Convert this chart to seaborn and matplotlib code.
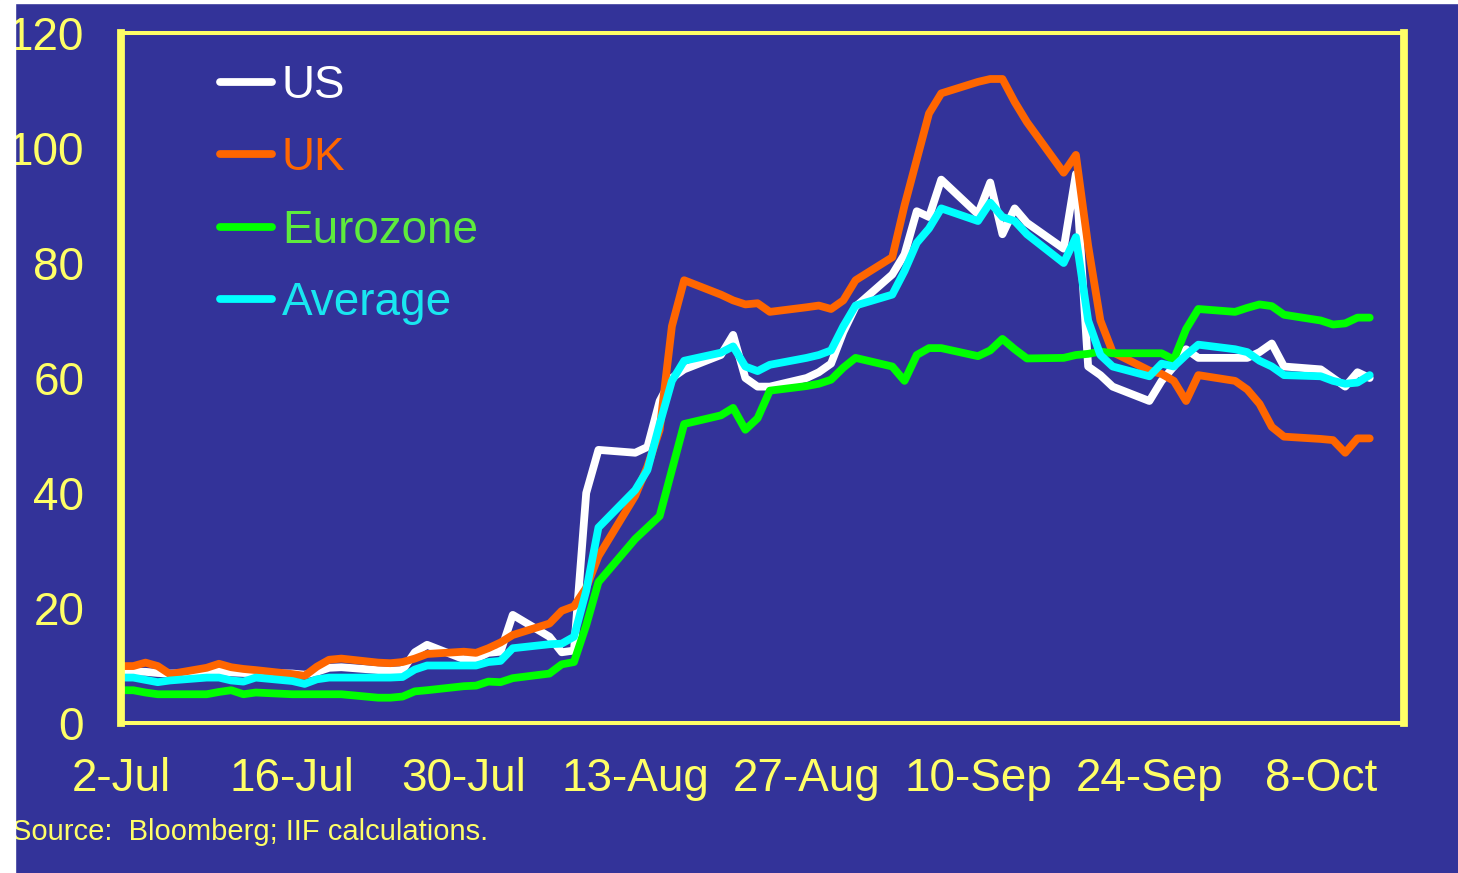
"""
Interbank spreads (3m LIBOR - OIS), Jul-Oct 2007 - recreated with seaborn
"""

import matplotlib.pyplot as plt
import matplotlib.dates as mdates
from matplotlib.lines import Line2D
from matplotlib.patches import Rectangle
import pandas as pd
import seaborn as sns

# business days 2-Jul-2007 .. 12-Oct-2007 (75 points)
DATES = pd.bdate_range("2007-07-02", "2007-10-12")

US = [
    8.8, 8.9, 8.9, 8.7, 8.6,
    8.7, 9.0, 8.8, 8.7, 8.7,
    8.6, 8.4, 8.9, 9.6, 9.7,
    9.2, 9.1, 9.2, 12.3, 13.6,
    11.1, 11.2, 12.2, 12.4, 18.8,
    15.0, 12.3, 12.6, 40.0, 47.5,
    47.0, 48.0, 56.0, 60.0, 61.5,
    64.0, 67.5, 60.0, 58.5, 58.5,
    60.0, 61.0, 62.5, 68.0, 72.4,
    78.0, 81.5, 89.0, 88.0, 94.5,
    88.5, 94.0, 85.0, 89.5, 87.0,
    82.5, 95.5, 62.0, 60.5, 58.5,
    56.0, 59.5, 62.0, 65.0, 63.5,
    63.5, 63.5, 64.5, 66.0, 62.0,
    61.5, 60.0, 58.5, 61.0, 60.0,
]
UK = [
    9.9, 9.9, 10.5, 9.9, 8.5,
    9.6, 10.3, 9.7, 9.4, 9.2,
    8.5, 8.2, 9.8, 11.0, 11.2,
    10.5, 10.4, 10.6, 11.2, 12.0,
    12.4, 12.2, 13.0, 14.0, 15.3,
    17.3, 19.5, 20.3, 23.5, 29.0,
    39.5, 44.6, 51.0, 69.0, 77.0,
    74.5, 73.5, 72.8, 73.0, 71.5,
    72.3, 72.6, 72.0, 73.5, 77.0,
    81.0, 90.0, 98.0, 106.0, 109.5,
    111.5, 112.0, 112.0, 108.0, 104.5,
    95.7, 98.8, 83.0, 70.0, 64.5,
    61.3, 60.7, 59.5, 56.0, 60.5,
    59.5, 58.0, 55.5, 51.5, 49.8,
    49.4, 49.2, 47.0, 49.5, 49.5,
]
EUROZONE = [
    5.7, 5.7, 5.3, 5.0, 5.0,
    5.0, 5.4, 5.7, 5.0, 5.3,
    5.0, 5.0, 5.0, 5.0, 5.0,
    4.4, 4.4, 4.6, 5.5, 5.7,
    6.4, 6.5, 7.2, 7.1, 7.8,
    8.6, 10.2, 10.6, 17.0, 24.5,
    32.0, 34.0, 36.0, 44.0, 52.0,
    53.5, 54.8, 51.0, 53.0, 57.8,
    58.6, 59.0, 59.7, 61.8, 63.5,
    62.0, 59.5, 64.0, 65.2, 65.2,
    63.8, 64.8, 66.8, 65.0, 63.4,
    63.5, 64.0, 64.2, 64.6, 64.3,
    64.3, 64.3, 63.2, 68.5, 72.0,
    71.5, 72.2, 72.8, 72.5, 71.0,
    70.0, 69.3, 69.5, 70.5, 70.5,
]
AVERAGE = [
    7.9, 7.9, 7.5, 7.1, 7.4,
    7.9, 7.9, 7.4, 7.2, 7.9,
    7.3, 6.8, 7.6, 7.9, 7.9,
    7.9, 7.9, 8.0, 9.3, 10.0,
    10.0, 10.0, 10.6, 10.8, 13.0,
    13.7, 13.8, 15.0, 23.0, 34.0,
    40.5, 44.0, 52.0, 59.5, 63.0,
    64.4, 65.5, 62.0, 61.2, 62.3,
    63.5, 64.0, 64.8, 69.0, 72.6,
    74.5, 78.6, 83.5, 86.0, 89.5,
    87.3, 90.5, 88.0, 87.3, 85.0,
    80.0, 84.5, 70.0, 64.0, 62.0,
    60.3, 62.5, 62.0, 64.0, 65.8,
    65.0, 64.5, 63.0, 62.0, 60.5,
    60.3, 59.5, 59.0, 59.2, 60.5,
]

SERIES = ["US", "UK", "Eurozone", "Average"]
LINE_COLORS = ["#FFFFFF", "#FF6600", "#00FF00", "#00FFFF"]
TEXT_COLORS = ["#FFFFFF", "#FF6600", "#5EEB3C", "#19E6F0"]

Y_TICKS = [0, 20, 40, 60, 80, 100, 120]
X_TICK_DATES = pd.date_range("2007-07-02", periods=8, freq="14D")
X_TICK_LABELS = ["2-Jul", "16-Jul", "30-Jul", "13-Aug", "27-Aug", "10-Sep", "24-Sep", "8-Oct"]

BLUE = "#333399"
YELLOW = "#FFFF66"
W, H = 1458, 873


def main() -> None:
    sns.set_theme(style="white")
    plt.rcParams["font.family"] = ["Liberation Sans", "DejaVu Sans"]

    df = pd.concat(
        [pd.DataFrame({"date": DATES, "value": vals, "series": name})
         for name, vals in zip(SERIES, [US, UK, EUROZONE, AVERAGE])],
        ignore_index=True,
    )

    fig = plt.figure(figsize=(W / 100, H / 100), dpi=100, facecolor=BLUE)
    ax = fig.add_axes([121 / W, 1 - 723 / H, (1404 - 121) / W, (723 - 33) / H])
    ax.set_facecolor(BLUE)

    sns.lineplot(data=df, x="date", y="value", hue="series", hue_order=SERIES,
                 palette=LINE_COLORS, linewidth=5.6, legend=False, ax=ax)

    x0 = mdates.date2num(pd.Timestamp("2007-07-02"))
    ax.set_xlim(x0, x0 + 104.8)
    ax.set_ylim(0, 120)
    ax.set_xlabel("")
    ax.set_ylabel("")
    ax.grid(False)

    ax.set_yticks(Y_TICKS)
    ax.set_yticklabels([str(v) for v in Y_TICKS])
    ax.set_xticks(mdates.date2num(X_TICK_DATES))
    ax.set_xticklabels(X_TICK_LABELS)

    for side, spine in ax.spines.items():
        spine.set_visible(True)
        spine.set_color(YELLOW)
        spine.set_linewidth(5.6 if side in ("left", "right") else 2.9)

    ax.tick_params(axis="both", colors=YELLOW, labelcolor=YELLOW, direction="out",
                   length=11.5, width=2.9, labelsize=33)
    ax.tick_params(axis="x", pad=13)
    ax.tick_params(axis="y", pad=15)
    for lbl in ax.get_yticklabels():
        lbl.set_y(lbl.get_position()[1])

    handles = [Line2D([], [], color=c, linewidth=5.6) for c in LINE_COLORS]
    leg = ax.legend(handles, SERIES, loc="upper left",
                    bbox_to_anchor=(220 / W, 1 - 64 / H), bbox_transform=fig.transFigure,
                    frameon=False, fontsize=33, handlelength=1.13, handletextpad=0.22,
                    labelspacing=0.62, borderpad=0, borderaxespad=0)
    for t, c in zip(leg.get_texts(), TEXT_COLORS):
        t.set_color(c)

    fig.text(12 / W, 1 - 832 / H, "Source:  Bloomberg; IIF calculations.",
             color=YELLOW, fontsize=21, ha="left", va="center")

    # white border strips seen in the original scan
    fig.add_artist(Rectangle((0, 0), 15 / W, 1, transform=fig.transFigure,
                             color="white", zorder=10))
    fig.add_artist(Rectangle((0, 1 - 3 / H), 1, 3 / H, transform=fig.transFigure,
                             color="white", zorder=10))

    fig.savefig("out.png", dpi=100, facecolor=fig.get_facecolor())
    plt.close(fig)


if __name__ == "__main__":
    main()
